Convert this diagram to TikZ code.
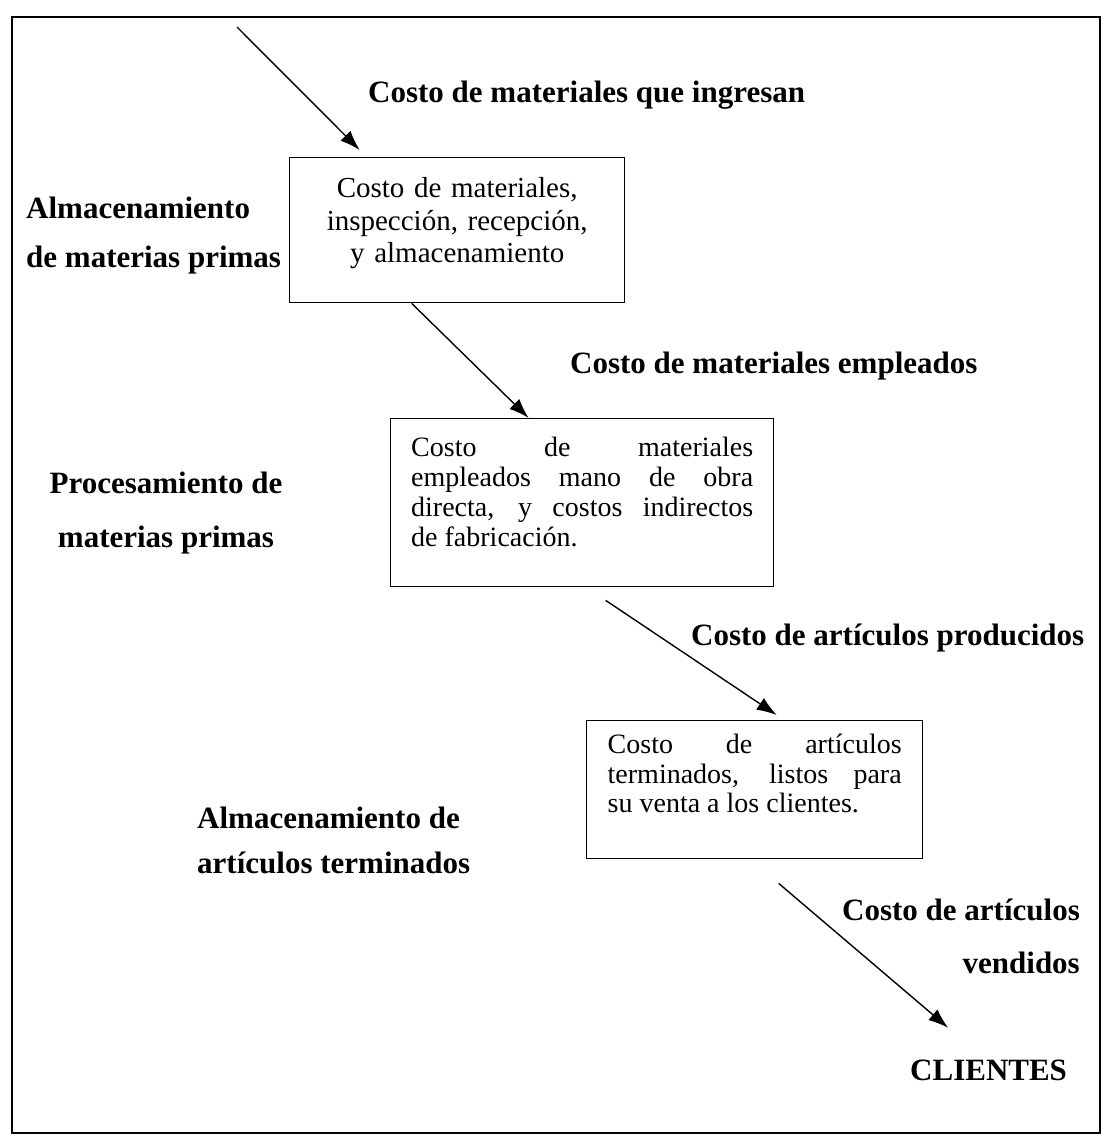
\documentclass[tikz,border=0pt]{standalone}
\usepackage{fontspec}
\setmainfont{Liberation Serif}
\usetikzlibrary{arrows.meta}
\begin{document}
\begin{tikzpicture}[x=1pt,y=-1pt,>={Latex[length=20pt,width=14pt]},
  caja/.style={draw,line width=1.4pt,anchor=north west,text height=20pt},
  etiq/.style={font=\bfseries\fontsize{31}{49}\selectfont,inner sep=0pt,anchor=base west},
  flujo/.style={->,line width=1.4pt}]
\useasboundingbox (0,0) rectangle (1103,1142);
\draw[line width=1.6pt](12,17) rectangle (1100,1133);
% cajas
\node[caja,text width=300pt,inner xsep=17.5pt,inner ysep=20pt,text depth=85pt,align=center,
  font=\fontsize{29}{32.5}\selectfont] (alm) at (289,157)
  {Costo de materiales,\\inspección, recepción,\\y almacenamiento};
\node[caja,text width=342pt,inner xsep=20.5pt,inner ysep=18pt,text depth=112pt,align=justify,
  font=\fontsize{28}{30}\selectfont] (emp) at (390,418)
  {Costo de materiales\linebreak empleados mano de obra\linebreak directa, y costos indirectos\linebreak de fabricación.};
\node[caja,text width=294pt,inner xsep=21pt,inner ysep=13pt,text depth=92pt,align=justify,
  font=\fontsize{28}{29.5}\selectfont] (term) at (586,720)
  {Costo de artículos\linebreak terminados, listos para\linebreak su venta a los clientes.};
% etiquetas (base en la ultima linea)
\node[etiq] (ingresan) at (368,103) {Costo de materiales que ingresan};
\node[etiq,align=left] (almmp) at (26,267) {Almacenamiento\\de materias primas};
\node[etiq] (empleados) at (570,373) {Costo de materiales empleados};
\node[etiq,align=center,anchor=base] (proc) at (166,547) {Procesamiento de\\[5pt]materias primas};
\node[etiq] (producidos) at (691,645) {Costo de artículos producidos};
\node[etiq,align=left] (almat) at (197,873) {Almacenamiento de\\[-4pt]artículos terminados};
\node[etiq,align=right,anchor=base east] (vendidos) at (1080,973) {Costo de artículos\\[4pt]vendidos};
\node[etiq] (cli) at (910,1080) {CLIENTES};
% flechas
\coordinate (entrada) at (237,27);
\draw[flujo](entrada)--([shift={(-97.5,-7)}]alm.north);
\draw[flujo]([xshift=-45.5pt]alm.south)--([xshift=-53.5pt]emp.north);
\draw[flujo]([shift={(23.5,13)}]emp.south)--([shift={(22,-5)}]term.north);
\draw[flujo]([shift={(24,24)}]term.south)--([shift={(-40.4,-31.5)}]cli.north);
\end{tikzpicture}
\end{document}
